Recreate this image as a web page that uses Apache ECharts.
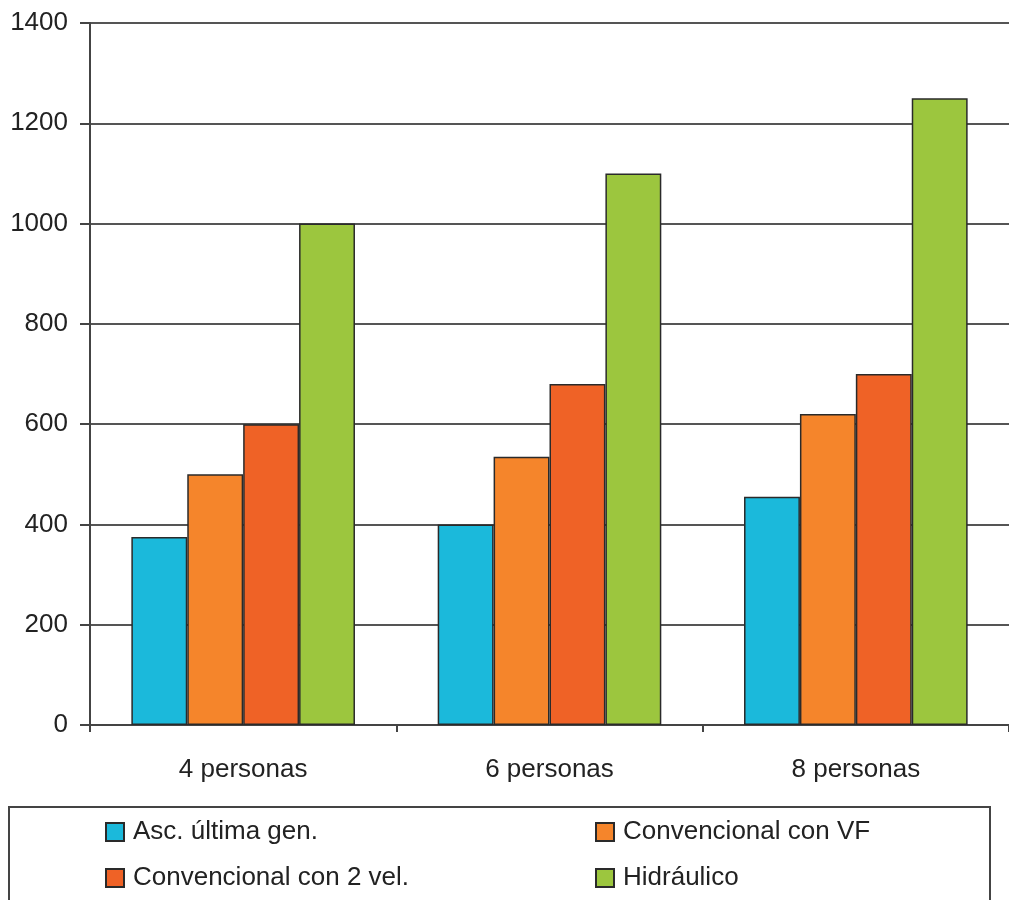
<!DOCTYPE html>
<html>
<head>
<meta charset="utf-8">
<script src="https://cdn.jsdelivr.net/npm/echarts@6/dist/echarts.min.js"></script>
<style>
  html, body { margin: 0; padding: 0; background: #fff; }
  #chart { width: 1009px; height: 900px; }
</style>
</head>
<body>
<div id="chart"></div>
<script>
// Categories and series values
const categories = ['4 personas', '6 personas', '8 personas'];
const ascUltimaGen = [375, 400, 455];
const convencionalVF = [500, 535, 620];
const convencional2Vel = [600, 680, 700];
const hidraulico = [1000, 1100, 1250];
const yTicks = [0, 200, 400, 600, 800, 1000, 1200, 1400];

const seriesNames = ['Asc. última gen.', 'Convencional con VF', 'Convencional con 2 vel.', 'Hidráulico'];
const seriesColors = ['#1bb9db', '#f5852b', '#ef6226', '#9cc63e'];
const seriesData = [ascUltimaGen, convencionalVF, convencional2Vel, hidraulico];

const FONT = '"Liberation Sans", Arial, sans-serif';
const chart = echarts.init(document.getElementById('chart'), null, { renderer: 'canvas' });

const legendText = { fontFamily: FONT, fontSize: 26, color: '#222', padding: [0, 0, 0, 4] };

const option = {
  animation: false,
  backgroundColor: '#ffffff',
  textStyle: { fontFamily: FONT, color: '#222' },
  grid: { left: 90, top: 23, width: 925, height: 702, containLabel: false },
  xAxis: {
    type: 'category',
    data: categories,
    axisLine: { show: true, lineStyle: { color: '#444', width: 2 } },
    axisTick: { show: true, length: 7, lineStyle: { color: '#444', width: 2 } },
    axisLabel: { fontFamily: FONT, fontSize: 26, color: '#222', margin: 32 },
    splitLine: { show: false }
  },
  yAxis: {
    type: 'value',
    min: yTicks[0],
    max: yTicks[yTicks.length - 1],
    interval: 200,
    axisLine: { show: true, lineStyle: { color: '#444', width: 2 } },
    axisTick: { show: true, length: 10, lineStyle: { color: '#444', width: 2 } },
    axisLabel: { fontFamily: FONT, fontSize: 26, color: '#222', margin: 22, formatter: v => String(v) },
    splitLine: { show: true, lineStyle: { color: '#555', width: 2 } }
  },
  legend: [
    {
      data: [seriesNames[0], seriesNames[2]],
      orient: 'vertical',
      left: 105, top: 819,
      icon: 'rect',
      itemWidth: 18, itemHeight: 18, itemGap: 20,
      textStyle: legendText,
      padding: 0
    },
    {
      data: [seriesNames[1], seriesNames[3]],
      orient: 'vertical',
      left: 595, top: 819,
      icon: 'rect',
      itemWidth: 18, itemHeight: 18, itemGap: 20,
      textStyle: legendText,
      padding: 0
    }
  ],
  graphic: [
    {
      type: 'rect',
      shape: { x: 9, y: 807, width: 981, height: 110 },
      style: { fill: 'none', stroke: '#444', lineWidth: 2 },
      z: -1
    }
  ],
  series: seriesNames.map((name, i) => ({
    name,
    type: 'bar',
    data: seriesData[i],
    barGap: '0%',
    barCategoryGap: '27%',
    itemStyle: { color: seriesColors[i], borderColor: '#2a2a2a', borderWidth: 1.5 },
    emphasis: { disabled: true }
  }))
};

chart.setOption(option);
</script>
</body>
</html>
